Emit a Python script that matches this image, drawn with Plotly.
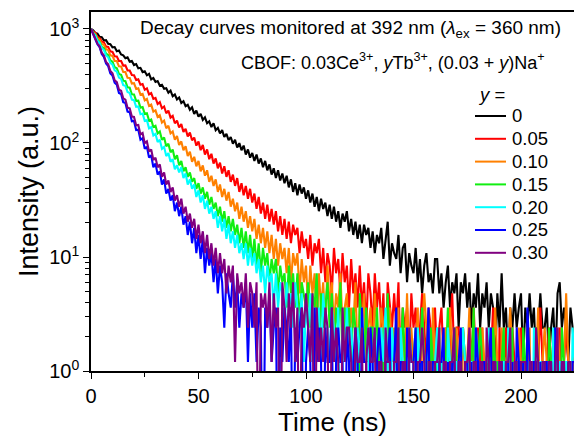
import numpy as np
import plotly.graph_objects as go

# ---------------- data (photon counts per 1-ns channel) -------------
time_step_ns = 1.0
peak_counts = 833          # counts in the first channel
peak_intensity = 1000      # plotted value of the first channel (a.u.)

series_labels = ["0", "0.05", "0.10", "0.15", "0.20", "0.25", "0.30"]
series_colors = ["#000000", "#ff0000", "#ff8000", "#11ee11", "#00ffff", "#0000ff", "#800080"]

counts_y000 = [
    833, 812, 770, 758, 712, 705,
    661, 664, 618, 612, 575,
    578, 531, 540, 498, 489,
    462, 470, 431, 437, 402,
    410, 376, 380, 349, 355,
    327, 337, 301, 310, 286,
    291, 265, 270, 249, 252,
    230, 240, 214, 222, 201,
    209, 187, 194, 175, 180,
    163, 171, 150, 160, 142,
    150, 133, 140, 124, 129,
    115, 124, 108, 113, 101,
    108, 94, 100, 88, 94,
    82, 89, 76, 83, 72,
    79, 66, 73, 62, 68,
    58, 66, 55, 61, 51,
    58, 48, 54, 44, 50,
    41, 48, 39, 45, 37,
    43, 34, 40, 31, 37,
    29, 36, 30, 34, 27,
    32, 25, 30, 23, 28,
    21, 27, 22, 25, 19,
    24, 18, 23, 17, 21,
    15, 20, 17, 21, 14,
    18, 13, 17, 12, 16,
    11, 16, 13, 15, 10,
    14, 9, 13, 11, 15,
    8, 12, 17, 7, 11,
    9, 8, 13, 6, 10,
    11, 5, 9, 7, 6,
    10, 5, 8, 4, 7,
    9, 5, 6, 4, 8,
    8, 4, 6, 3, 5,
    7, 3, 5, 4, 6,
    2, 5, 4, 6, 3,
    5, 2, 4, 3, 6,
    2, 4, 3, 5, 2,
    4, 3, 1, 4, 2,
    6, 2, 3, 1, 3,
    2, 4, 2, 3, 4,
    1, 3, 2, 4, 2,
    3, 1, 2, 4, 2,
    2, 3, 1, 2, 3,
    1, 4, 5, 2, 3,
    2, 1, 3, 2, 1,
]

counts_y005 = [
    833, 790, 771, 709, 695, 648,
    637, 583, 579, 530, 524,
    481, 479, 437, 436, 398,
    399, 361, 360, 329, 327,
    297, 301, 270, 274, 244,
    251, 222, 228, 203, 207,
    183, 190, 168, 174, 152,
    160, 139, 144, 124, 131,
    114, 122, 104, 111, 95,
    103, 88, 93, 79, 86,
    72, 80, 66, 73, 60,
    67, 55, 61, 50, 56,
    45, 52, 42, 48, 38,
    44, 35, 41, 31, 37,
    29, 35, 27, 33, 25,
    30, 22, 28, 20, 25,
    18, 24, 17, 22, 16,
    21, 14, 19, 13, 18,
    12, 17, 11, 16, 13,
    15, 9, 14, 10, 12,
    8, 13, 7, 11, 9,
    12, 6, 10, 5, 9,
    7, 4, 10, 6, 8,
    4, 9, 5, 7, 3,
    8, 4, 6, 3, 7,
    3, 5, 2, 6, 4,
    2, 6, 3, 5, 2,
    4, 1, 5, 3, 2,
    4, 2, 5, 1, 3,
    2, 3, 1, 4, 2,
    3, 1, 2, 4, 2, 1, 3, 2, 0, 3,
    1, 2, 3, 1, 2, 0, 2, 4, 1, 2,
    2, 1, 2, 1, 0, 2, 1, 3, 1, 2,
    1, 2, 0, 1, 2, 1, 3, 1, 0, 2,
    1, 1, 2, 0, 1, 2, 1, 1, 0, 2,
    1, 0, 2, 1, 1, 0, 2, 1, 3, 1,
    0, 1, 2, 1, 0, 1, 1, 2, 0, 1, 2, 1, 0, 1, 1,
]

counts_y010 = [
    833, 778, 752, 689, 671, 615,
    605, 552, 545, 489, 484,
    437, 436, 392, 391, 349,
    349, 311, 310, 277, 279,
    248, 251, 221, 225, 197,
    203, 176, 181, 157, 161,
    141, 146, 126, 131, 112,
    118, 101, 105, 89, 96,
    80, 86, 72, 78, 64,
    70, 57, 63, 52, 58,
    47, 53, 43, 48, 38,
    43, 35, 40, 31, 36,
    28, 33, 26, 31, 23,
    27, 21, 25, 18, 23,
    17, 21, 15, 19, 14,
    18, 12, 16, 11, 15,
    10, 14, 9, 13, 8,
    12, 7, 11, 8, 10,
    6, 10, 5, 9, 7,
    9, 4, 8, 5, 7,
    3, 7, 4, 6, 2,
    6, 3, 5, 2, 7,
    3, 5, 2, 4, 3, 6, 2, 3, 4, 1,
    3, 2, 5, 1, 3, 2, 4, 1, 2, 3,
    1, 4, 2, 1, 3, 2, 0, 2, 3, 1,
    2, 1, 3, 0, 2, 1, 4, 1, 2, 1,
    1, 3, 0, 2, 4, 2, 1, 0, 3, 1,
    2, 1, 0, 1, 2, 1, 3, 1, 0, 2,
    1, 0, 2, 1, 1, 3, 0, 1, 2, 1,
    0, 2, 1, 1, 0, 2, 1, 3, 1, 0,
    2, 1, 0, 1, 3, 1, 1, 0, 2, 1,
    1, 0, 1, 2, 0, 1, 1, 3, 0, 1,
    2, 1, 0, 1, 1, 0, 2, 1, 0, 1, 4, 1, 0, 1, 2,
]

counts_y015 = [
    833, 770, 738, 667, 640, 580,
    562, 507, 490, 441, 430,
    386, 377, 336, 330, 293,
    290, 256, 254, 223, 222,
    195, 196, 170, 172, 150,
    152, 131, 134, 115, 118,
    101, 105, 89, 93, 78,
    82, 69, 73, 60, 65,
    53, 58, 47, 51, 42,
    46, 38, 41, 33, 37,
    30, 34, 27, 31, 24,
    28, 22, 25, 19, 23,
    17, 21, 15, 19, 14,
    18, 13, 16, 11, 15,
    10, 14, 9, 13, 8,
    12, 7, 11, 6, 10,
    7, 9, 5, 8, 6,
    8, 4, 7, 5, 6,
    3, 7, 4, 6, 3,
    6, 2, 5, 4, 3,
    5, 2, 4, 3, 6, 1, 4, 2, 3, 5,
    2, 4, 1, 3, 2, 5, 1, 3, 2, 3,
    1, 3, 2, 0, 4, 2, 1, 3, 1, 2,
    2, 1, 3, 1, 0, 2, 1, 4, 1, 2,
    1, 0, 2, 1, 3, 1, 0, 2, 1, 1,
    2, 0, 1, 3, 1, 1, 0, 2, 1, 0,
    1, 2, 0, 1, 1, 3, 0, 1, 2, 1,
    0, 1, 2, 1, 0, 1, 1, 3, 0, 1,
    2, 1, 0, 1, 1, 0, 2, 1, 1, 0,
    1, 2, 0, 1, 1, 2, 0, 1, 1, 0,
    2, 1, 0, 1, 0, 1, 2, 1, 0, 1,
    1, 0, 2, 1, 0, 1, 1, 0, 2, 1, 0, 1, 1, 0, 1,
]

counts_y020 = [
    833, 766, 731, 655, 628, 565,
    544, 488, 470, 420, 405,
    361, 352, 312, 304, 268,
    264, 233, 229, 200, 198,
    173, 174, 149, 151, 130,
    132, 112, 115, 97, 100,
    85, 89, 74, 77, 64,
    68, 57, 60, 49, 53,
    46, 51, 41, 45, 36,
    40, 33, 36, 28, 32,
    25, 29, 22, 26, 20,
    23, 18, 21, 15, 19,
    14, 18, 12, 16, 11,
    14, 10, 13, 9, 11,
    8, 11, 7, 10, 7,
    9, 6, 8, 5, 7,
    4, 7, 5, 6, 3,
    6, 3, 5, 4, 2,
    5, 3, 4, 2, 5, 3, 2, 4, 1, 3,
    2, 4, 1, 3, 2, 3, 1, 4, 2, 2,
    1, 3, 2, 1, 3, 0, 2, 1, 3, 1,
    2, 1, 0, 2, 1, 3, 1, 1, 2, 0,
    1, 2, 1, 0, 2, 1, 3, 1, 0, 2,
    1, 1, 0, 2, 1, 0, 1, 2, 1, 1,
    0, 2, 1, 1, 0, 1, 2, 0, 1, 1,
    2, 0, 1, 1, 0, 2, 1, 0, 1, 1,
    0, 1, 2, 1, 0, 1, 1, 0, 2, 1,
    1, 0, 1, 1, 2, 0, 1, 1, 0, 1,
    1, 1, 0, 2, 1, 0, 1, 1, 0, 1,
    1, 0, 1, 1, 0, 2, 1, 0, 1, 1,
    0, 1, 1, 0, 2, 1, 0, 1, 1, 0, 1, 1, 0, 2, 1,
]

counts_y025 = [
    833, 748, 699, 611, 576, 502,
    474, 414, 393, 339, 325,
    281, 270, 229, 224, 190,
    187, 157, 155, 129, 130,
    108, 109, 89, 92, 74,
    77, 62, 65, 51, 55,
    44, 47, 36, 40, 30,
    33, 26, 29, 21, 25,
    19, 23, 16, 19, 13,
    17, 11, 15, 9, 13,
    8, 12, 6, 10, 7,
    9, 5, 8, 4, 7,
    5, 2, 6, 4, 3,
    6, 3, 5, 2, 4,
    3, 5, 1, 4, 2,
    4, 1, 3, 2, 0,
    3, 2, 4, 1, 2, 3, 0, 2, 1, 3,
    2, 1, 3, 0, 2, 1, 2, 3, 0, 1,
    2, 1, 0, 3, 1, 2, 1, 0, 2, 1,
    1, 3, 0, 1, 2, 1, 1, 0, 2, 1,
    0, 1, 2, 1, 0, 3, 1, 1, 0, 2,
    1, 0, 1, 2, 1, 0, 1, 1, 2, 0,
    1, 3, 0, 1, 1, 0, 2, 1, 0, 1,
    2, 0, 1, 1, 0, 1, 3, 0, 1, 1,
    0, 1, 1, 2, 0, 1, 0, 1, 1, 0,
    1, 2, 0, 1, 1, 0, 1, 0, 2, 1,
    0, 1, 1, 0, 1, 2, 0, 1, 0, 1,
    1, 0, 1, 1, 0, 1, 0, 2, 1, 0,
    1, 0, 3, 1, 0, 1, 1, 0, 1, 0,
    1, 1, 0, 1, 0, 2, 1, 0, 1, 1, 0, 1, 0, 1, 1,
]

counts_y030 = [
    833, 752, 705, 621, 587, 516,
    488, 428, 409, 356, 341,
    296, 285, 245, 239, 205,
    200, 170, 168, 142, 141,
    119, 120, 99, 102, 83,
    86, 70, 73, 59, 62,
    51, 54, 42, 46, 36,
    39, 31, 34, 26, 29,
    23, 27, 20, 23, 17,
    20, 15, 18, 12, 16,
    11, 14, 9, 13, 8,
    11, 7, 10, 6, 9,
    6, 8, 4, 7, 5,
    7, 1, 6, 4, 5,
    3, 6, 2, 5, 4,
    2, 5, 0, 4, 3,
    4, 2, 5, 1, 4, 2, 3, 0, 5, 3,
    1, 4, 2, 5, 1, 3, 0, 3, 2, 4,
    2, 1, 4, 0, 3, 1, 2, 1, 3, 2,
    0, 3, 1, 2, 1, 0, 3, 1, 2, 2,
    1, 0, 2, 1, 1, 2, 0, 1, 2, 1,
    1, 2, 0, 1, 1, 0, 2, 1, 1, 0,
    1, 1, 2, 0, 1, 1, 0, 2, 1, 1,
    0, 1, 1, 2, 1, 0, 1, 1, 0, 1,
    1, 2, 0, 1, 1, 0, 1, 1, 2, 0,
    1, 1, 0, 1, 1, 2, 0, 1, 1, 0,
    1, 1, 0, 2, 1, 0, 1, 1, 0, 1,
    1, 0, 1, 1, 2, 0, 1, 1, 0, 1,
    1, 1, 0, 1, 1, 0, 2, 1, 0, 1,
    1, 0, 1, 1, 0, 1, 2, 0, 1, 1, 0, 1, 1, 0, 1,
]

series_counts = [counts_y000, counts_y005, counts_y010, counts_y015,
                 counts_y020, counts_y025, counts_y030]

x_tick_values = [0, 50, 100, 150, 200]
y_tick_values = [1, 10, 100, 1000]
y_tick_labels = ["10<sup>0</sup>", "10<sup>1</sup>", "10<sup>2</sup>", "10<sup>3</sup>"]

# ---------------- figure ----------------
FONT = "Arial, 'Liberation Sans', sans-serif"
W, H = 574, 438
ML, MR, MT, MB = 91, 0, 12, 67
PW, PH = W - ML - MR, H - MT - MB


def px_x(px):   # pixel -> paper x
    return (px - ML) / PW


def px_y(py):   # pixel -> paper y
    return (H - MB - py) / PH


fig = go.Figure()
for label, color, counts in zip(series_labels, series_colors, series_counts):
    c = np.asarray(counts, dtype=float)
    t = np.arange(len(c)) * time_step_ns
    # empty channels are drawn below the axis floor (log scale), as in the original
    inten = np.where(c > 0, c * peak_intensity / peak_counts, 0.05)
    fig.add_trace(go.Scatter(x=t, y=inten, mode="lines", name=label, showlegend=False,
                             line=dict(color=color, width=2.1)))

minor_y = [m * 10 ** e for e in range(0, 3) for m in range(2, 10)]

# hand-built legend (matches the compact spacing of the original)
shapes, annotations = [], []
leg_top, leg_step = 116, 22.8
for i, (label, color) in enumerate(zip(series_labels, series_colors)):
    yy = px_y(leg_top + i * leg_step)
    shapes.append(dict(type="line", xref="paper", yref="paper", x0=px_x(475), x1=px_x(506),
                       y0=yy, y1=yy, line=dict(color=color, width=2)))
    annotations.append(dict(text=label, xref="paper", yref="paper", x=px_x(510), y=yy,
                            xanchor="left", yanchor="middle", showarrow=False,
                            font=dict(size=18.5)))
annotations.append(dict(text="<i>y</i> =", xref="paper", yref="paper", x=px_x(491), y=px_y(95),
                        xanchor="center", yanchor="middle", showarrow=False, font=dict(size=18.5)))

annotations += [
    dict(text="Decay curves monitored at 392 nm (<i>λ</i><sub>ex</sub> = 360 nm)",
         xref="paper", yref="paper", x=px_x(563), y=px_y(29), xanchor="right", yanchor="middle",
         showarrow=False, font=dict(size=19)),
    dict(text="CBOF: 0.03Ce<sup>3+</sup>, <i>y</i>Tb<sup>3+</sup>, (0.03 + <i>y</i>)Na<sup>+</sup>",
         xref="paper", yref="paper", x=px_x(547), y=px_y(61), xanchor="right", yanchor="middle",
         showarrow=False, font=dict(size=18)),
]

fig.update_layout(
    width=W, height=H,
    margin=dict(l=ML, r=MR, t=MT, b=MB),
    paper_bgcolor="white", plot_bgcolor="white",
    font=dict(family=FONT, color="black"),
    showlegend=False,
    shapes=shapes,
    annotations=annotations,
    xaxis=dict(
        range=[0, PW / 2.15], tickvals=x_tick_values, ticks="outside", ticklen=6, tickwidth=1.3,
        tickcolor="black", showline=True, linecolor="black", linewidth=1.5, mirror=True,
        showgrid=False, zeroline=False, tickfont=dict(size=20),
        minor=dict(dtick=25, tick0=0, ticks="outside", ticklen=4, tickwidth=1.2, tickcolor="black", showgrid=False),
        title=dict(text="Time (ns)", font=dict(size=26), standoff=6),
    ),
    yaxis=dict(
        type="log", range=[0, 3.149], tickvals=y_tick_values, ticktext=y_tick_labels,
        ticks="outside", ticklen=6, tickwidth=1.3, tickcolor="black",
        showline=True, linecolor="black", linewidth=1.5, showgrid=False, zeroline=False,
        tickfont=dict(size=20),
        minor=dict(tickvals=minor_y, ticks="outside", ticklen=4, tickwidth=1.1, tickcolor="black", showgrid=False),
        title=dict(text="Intensity (a.u.)", font=dict(size=27), standoff=3),
    ),
    yaxis2=dict(
        type="log", range=[0, 3.149], overlaying="y", side="right", tickvals=y_tick_values,
        showticklabels=False, ticks="inside", ticklen=6, tickwidth=1.3, tickcolor="black",
        showline=True, linecolor="black", linewidth=1.5, showgrid=False, zeroline=False,
        minor=dict(tickvals=minor_y, ticks="inside", ticklen=4, tickwidth=1.1, tickcolor="black", showgrid=False),
    ),
)

fig.write_html("out.html")
